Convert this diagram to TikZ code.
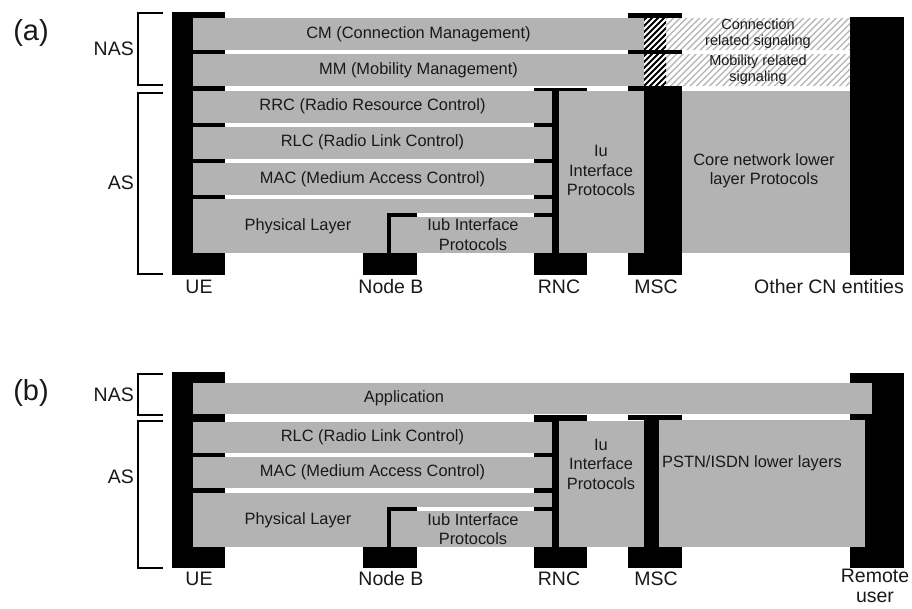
\documentclass[tikz,border=0pt]{standalone}
\usepackage{fontspec}
\setmainfont{Liberation Sans}
\definecolor{bandgray}{RGB}{179,179,179}
\definecolor{hatchgray}{RGB}{185,185,185}
\definecolor{inktext}{RGB}{25,25,25}
\begin{document}
\begin{tikzpicture}[x=1pt,y=-1pt,
  blk/.style={fill=black},
  band/.style={fill=bandgray},
  intext/.style={font=\fontsize{16.4}{19.5}\selectfont, align=center, inner sep=0pt, text=inktext},
  smalltext/.style={font=\fontsize{14.5}{16}\selectfont, align=center, inner sep=0pt, text=inktext},
  lbl/.style={font=\fontsize{19.5}{21}\selectfont, align=center, inner sep=0pt, text=inktext},
  big/.style={font=\fontsize{29}{30}\selectfont, inner sep=0pt, text=inktext},
  brk/.style={line width=2pt},
  lighthatch/.style={draw=hatchgray, line width=1.4pt},
  darkhatch/.style={draw=black, line width=1.9pt}]
\useasboundingbox (0,0) rectangle (912,608);

% ================= (a) =================
\node[big] (la) at (31,33) {(a)};
\draw[brk] (163,13) -- (138,13) -- (138,85) -- (163,85);
\draw[brk] (163,93) -- (138,93) -- (138,274) -- (163,274);
\node[lbl, anchor=east] (nasa) at (134,49) {NAS};
\node[lbl, anchor=east] (asa) at (134,183) {AS};

% UE
\fill[blk] (172,12) rectangle (225,275);
% RNC
\fill[blk] (534,88) rectangle (559,275);
\fill[blk] (534,88) rectangle (587,90.5);
\fill[blk] (534,253) rectangle (587,275);
% Node B
\fill[blk] (387,213) rectangle (391,253);
\fill[blk] (387,213) rectangle (417,216.5);
\fill[blk] (363,253) rectangle (417,275);
% MSC
\fill[blk] (644,86) rectangle (682,275);
\fill[blk] (628,253) rectangle (682,275);
% Other CN
\fill[blk] (850,17) rectangle (904,275);

% gray bands
\fill[band] (193,18) rectangle (644,50);
\fill[band] (193,54) rectangle (644,86);
\fill[band] (193,90.5) rectangle (552,122.5);
\fill[band] (193,126.5) rectangle (552,159);
\fill[band] (193,163) rectangle (552,195);
\fill[band] (193,198.5) rectangle (552,213);
\fill[band] (193,213) rectangle (387,253);
\fill[band] (391,216.5) rectangle (552,253);
\fill[band] (559,90.5) rectangle (643.5,253);
\fill[band] (682,90.5) rectangle (850,253);

% hatching
\begin{scope}
  \clip (666,18) rectangle (850,50) (666,54) rectangle (850,86);
  \foreach \i in {580,586.5,...,860} \draw[lighthatch] (\i,92) -- ++(80,-80);
\end{scope}
\begin{scope}
  \clip (644,18) rectangle (666,86);
  \foreach \i in {560,566,...,680} \draw[darkhatch] (\i,92) -- ++(80,-80);
\end{scope}
\fill[blk] (628,13) rectangle (682,18);
\fill[blk] (628,50) rectangle (682,54);
\fill[blk] (628,86) rectangle (682,90.5);

% texts (a)
\node[intext] (cm) at (418.5,34) {CM (Connection Management)};
\node[intext] (mm) at (418.5,70) {MM (Mobility Management)};
\node[intext] (rrc) at (372.5,106.5) {RRC (Radio Resource Control)};
\node[intext] (rlc) at (372.5,142.5) {RLC (Radio Link Control)};
\node[intext] (mac) at (372.5,179) {MAC (Medium Access Control)};
\node[intext] (phy) at (298,226) {Physical Layer};
\node[intext] (iub) at (473,234.5) {Iub Interface\\Protocols};
\node[intext] (iu) at (601,170.5) {Iu\\Interface\\Protocols};
\node[intext] (core) at (764,171) {Core network lower\\layer Protocols};
\node[smalltext] (conn) at (758,34) {Connection\\related signaling};
\node[smalltext] (mob) at (758,70) {Mobility related\\signaling};

\node[lbl] (ue) at (199,286.5) {UE};
\node[lbl] (nodeb) at (391,286.5) {Node B};
\node[lbl] (rnc) at (559,286.5) {RNC};
\node[lbl] (msc) at (656,286.5) {MSC};
\node[lbl] (cn) at (829,286.5) {Other CN entities};

% ================= (b) =================
\node[big] (lb) at (31,393) {(b)};
\draw[brk] (163,374) -- (138,374) -- (138,415) -- (163,415);
\draw[brk] (163,421) -- (138,421) -- (138,568) -- (163,568);
\node[lbl, anchor=east] (nasb) at (134,395) {NAS};
\node[lbl, anchor=east] (asb) at (134,477) {AS};

% UE
\fill[blk] (172,372) rectangle (225,568);
% RNC
\fill[blk] (534,415) rectangle (559,568);
\fill[blk] (534,415) rectangle (587,421);
\fill[blk] (534,547) rectangle (587,568);
% Node B
\fill[blk] (387,507) rectangle (391,547);
\fill[blk] (387,507) rectangle (417,511);
\fill[blk] (363,547) rectangle (417,568);
% MSC
\fill[blk] (628,415) rectangle (682,420);
\fill[blk] (644,415) rectangle (659,568);
\fill[blk] (628,547) rectangle (682,568);
% Remote user
\fill[blk] (850,372.5) rectangle (904,568);

% gray bands
\fill[band] (193,383) rectangle (872,414);
\fill[band] (193,422) rectangle (552,453);
\fill[band] (193,457) rectangle (552,488);
\fill[band] (193,492.5) rectangle (552,507);
\fill[band] (193,507) rectangle (387,547);
\fill[band] (391,511) rectangle (552,547);
\fill[band] (559,421) rectangle (643.5,547);
\fill[band] (659,420) rectangle (864.5,547);

% texts (b)
\node[intext] (app) at (404,398.5) {Application};
\node[intext] (rlcb) at (372.5,437.5) {RLC (Radio Link Control)};
\node[intext] (macb) at (372.5,472.5) {MAC (Medium Access Control)};
\node[intext] (phyb) at (298,520) {Physical Layer};
\node[intext] (iubb) at (473,529) {Iub Interface\\Protocols};
\node[intext] (iub2) at (601,464) {Iu\\Interface\\Protocols};
\node[intext, anchor=west] (pstn) at (662,463) {PSTN/ISDN lower layers};

\node[lbl] (ueb) at (199,578.5) {UE};
\node[lbl] (nodebb) at (391,578.5) {Node B};
\node[lbl] (rncb) at (559,578.5) {RNC};
\node[lbl] (mscb) at (656,578.5) {MSC};
\node[lbl, font=\fontsize{19.5}{19.5}\selectfont] (remote) at (875,586) {Remote\\user};
\end{tikzpicture}
\end{document}
